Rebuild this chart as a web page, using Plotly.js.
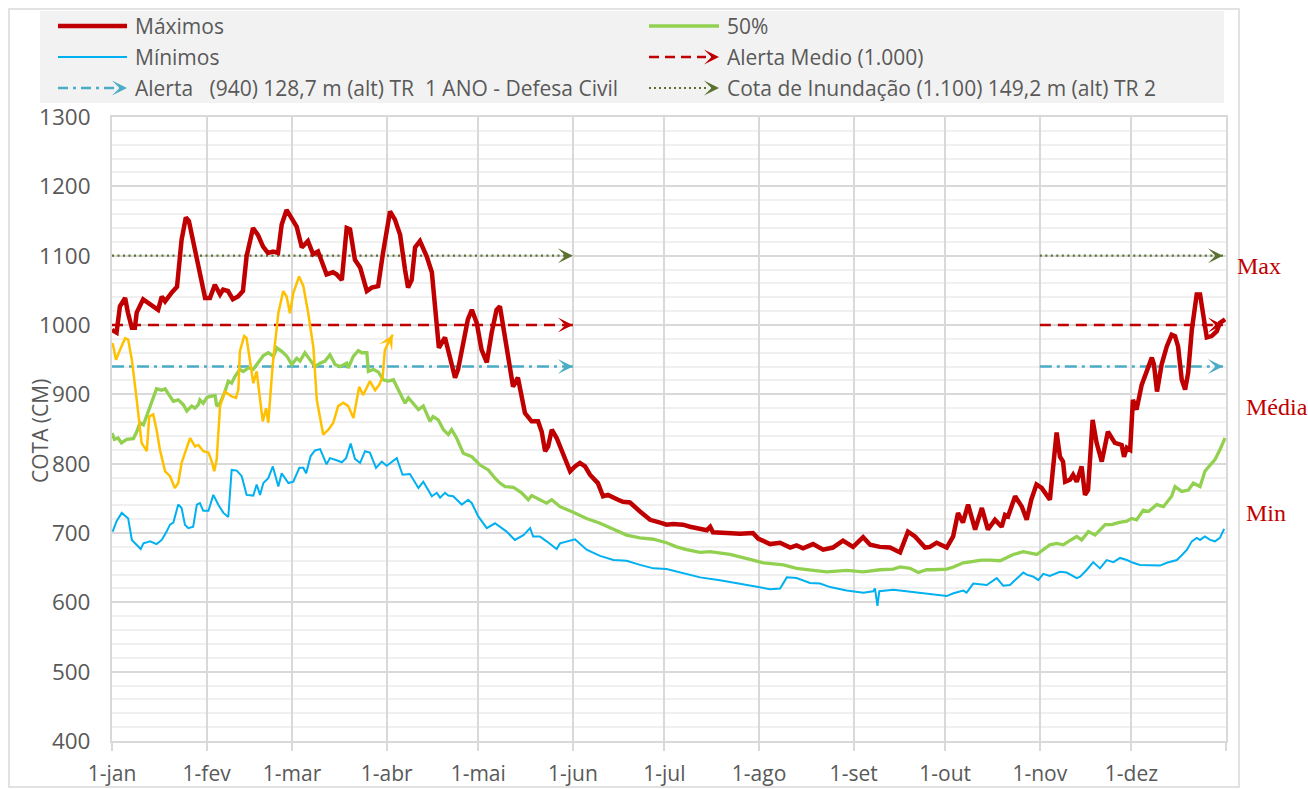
<!DOCTYPE html>
<html>
<head>
<meta charset="utf-8">
<script src="https://cdn.plot.ly/plotly-3.0.1.min.js"></script>
<style>html,body{margin:0;padding:0;background:#fff;}#chart{width:1308px;height:789px;}</style>
</head>
<body>
<div id="chart"></div>
<script>
// ---------------- DATA ----------------
const monthLabels = ['1-jan','1-fev','1-mar','1-abr','1-mai','1-jun','1-jul','1-ago','1-set','1-out','1-nov','1-dez',''];
const monthStartDay = [0,31,59,90,120,151,181,212,243,273,304,334,365];

// Máximos (day of year, cota cm)
const maxDays = [0,1.5,2.6,4.3,5.2,6.5,7.5,8.1,10.2,12.5,15.1,16.3,17.4,19.6,21.3,22.8,24.2,25.2,26.5,28.2,30.5,32.1,33.7,35.4,36.4,38,39.6,41.3,42.9,44.1,46.2,47.8,49.5,51.1,52.8,54.4,55.6,57.2,58.9,60.5,62.2,64.2,65.9,67.5,68.7,70.3,72.4,73.6,75.3,76.9,78,79.6,81.3,83.5,85.1,87.2,88.8,91.1,92.7,94.4,96,97,98.2,99.3,100.9,103.1,104.8,105.8,107.1,109.1,110.7,112.4,113.4,115,116.6,117.9,119.5,121.1,122.8,124.4,126,127.1,128.1,129.8,131.4,133,135.3,137.5,139.6,140.8,141.9,142.9,144.1,145.7,148.4,150.1,151.7,153.3,155,156.6,159.2,160.9,162.5,163.7,165.8,167.4,169.7,173,176.3,179.6,181.7,183.8,187.1,189.4,192.7,194.9,196,196.9,201.4,205.8,210,211.7,215.6,218.9,222.2,224.3,226.4,229.7,233,236.2,239.5,242.8,246.1,248.4,251.6,254.9,258.2,260.8,263.1,266.4,268,270.2,273.5,275.6,277.2,278.8,280.5,282.1,282.8,285,287,289.3,291.5,292.6,293.6,295.9,298.1,299.7,301.2,302.9,304.6,307.3,308.3,309.5,310.6,311.6,312.3,313.9,314.9,316.1,317.7,318.8,319.8,321.3,322.6,324.3,326.3,328.6,330.8,331.6,332.5,333.6,334.5,335.7,337.4,339,340.7,341.4,342.4,343.9,345.6,347.2,348.3,349.3,350.5,351.6,352.6,353.8,355.4,356.5,357.5,358.7,360.3,362,363,364.7];
const maxVals = [993,989,1027,1039,1018,996,996,1018,1037,1029,1022,1041,1034,1047,1055,1123,1155,1150,1123,1080,1039,1039,1058,1044,1051,1049,1037,1041,1049,1099,1140,1130,1113,1104,1106,1104,1145,1166,1155,1142,1112,1121,1102,1106,1092,1073,1076,1073,1065,1140,1138,1094,1083,1049,1054,1056,1104,1164,1152,1130,1080,1054,1065,1112,1121,1099,1076,1022,967,982,955,924,936,975,1008,1022,1003,964,946,989,1022,1027,998,955,911,924,873,861,861,846,818,825,849,837,806,789,796,801,796,784,772,753,755,753,748,745,744,731,719,715,712,713,712,709,705,704,709,701,700,699,700,692,684,686,679,682,678,684,676,679,689,680,694,683,680,679,672,702,695,679,680,686,679,695,729,715,741,719,705,736,705,719,709,726,724,753,738,719,748,770,765,748,796,845,810,803,774,777,784,774,796,755,762,863,830,803,846,830,827,810,823,820,892,878,914,931,953,943,904,943,969,986,984,969,921,907,931,993,1044,1044,1018,982,984,991,1003,1008];

// 50%
const p50Days = [0,0.8,2,3.1,4.8,7,8.1,9.2,10.3,11.9,13.5,14.6,16.3,17.4,19,20.1,21.7,23.4,24.5,26.1,27.2,28.3,28.8,29.9,31,32.1,33.8,34.3,35.4,37,38.1,39.2,40.3,41.9,43,44.7,46.3,47.9,49.6,51.2,52.9,54,55.6,57.3,58.9,60.5,61.6,63.2,64.9,66.5,68.2,69.8,71.4,73.1,74.7,76.9,77.4,79.1,80.7,81.8,83.5,84,85.6,87.3,88.9,90.5,92.2,94.4,96,97.1,98.7,100.4,102,104.2,105.2,106.9,108.6,110.2,111.3,112.9,115.1,117.9,120.6,123.3,125.5,127.1,128.8,131.5,134.2,136.4,137.5,140.2,142.4,144.1,146.8,151.1,155.5,159.9,164.3,168.6,173,177.4,181.7,185,188.3,192.7,195.9,202.5,209,213.4,220,224.3,229.8,234.2,240.7,246.2,251.6,256,258.2,261.5,264.2,266.9,269.1,273.5,275.7,278.9,282.2,285,287.7,291,295.3,298.6,303,307.3,309.5,311.7,313.4,316.1,317.7,319.9,322.1,325.4,327.6,329.7,332.5,334.1,335.7,337.9,339.6,342.3,344.5,347.2,348.3,350.5,352.7,354.3,356.5,358.1,359.8,361.4,363,364.7];
const p50Vals = [844,835,837,830,835,836,846,859,856,875,897,908,906,908,897,890,892,885,876,883,880,885,892,887,895,897,898,883,887,904,919,916,926,936,933,938,936,945,956,960,955,967,962,955,943,952,948,960,950,940,945,948,957,943,940,945,938,955,963,960,960,933,936,932,921,919,921,902,887,895,887,878,883,861,868,863,849,842,849,837,815,810,798,791,779,772,767,766,758,748,754,748,743,748,738,730,721,714,705,697,693,691,686,680,676,672,673,669,662,657,654,649,646,644,646,644,647,648,651,649,643,647,647,648,651,657,659,661,661,660,669,673,669,683,685,683,688,695,690,702,697,712,712,715,717,721,719,733,731,741,738,753,767,760,762,772,767,789,798,806,820,837];

// Mínimos
const minDays = [0.2,1.5,3.2,5.3,6.5,8.1,9.4,10.3,12.5,14.6,16.3,17.9,19,20.1,21.7,22.8,23.9,25,26.6,27.8,28.8,29.9,31.6,33.2,34.8,36.5,38.1,39.2,40.9,42.5,44.1,46.3,47.4,48.5,49.6,51.2,52.7,54.5,55.6,57.8,59.4,61.4,62.7,63.6,65.1,66.5,68.2,70.3,71.4,73.6,75.3,76.7,78.2,79.6,81.3,82.9,84.5,86.5,88.4,90,91.6,93.3,95.2,97.6,100.4,102,104.8,106.4,107.5,109.1,110.2,111.8,114.6,116.7,117.9,120,122.8,125.5,129.3,132,134.8,137,138,140.2,142.4,145.7,146.8,151.7,155.5,159.9,164.3,168.6,173,177.4,181.7,187.2,192.7,199.2,205.8,212.3,215.6,218.9,221.1,224.3,228.7,232,235.3,240.7,246.2,249.4,250,250.8,251.4,256,260.4,264.7,269.1,273.5,275.7,278.9,280,282.2,286.6,289.9,292,294.2,298.6,299.7,301.9,303.5,305.1,307.3,310.6,312.8,316.1,317.2,319.4,321.5,323.7,325.9,328.1,330.3,332.5,334.6,336.8,340.1,343.4,345.6,348.9,350.5,352.2,353.8,355.4,356.5,358.1,359.8,361.4,363,364.4];
const minVals = [702,717,729,721,690,683,677,685,688,684,690,702,712,715,741,736,712,707,709,741,743,732,732,755,741,729,723,791,790,782,755,754,770,755,772,779,796,767,786,772,774,794,794,786,811,819,821,799,808,805,802,808,829,807,801,818,816,794,803,797,803,808,784,785,765,774,753,758,751,758,754,753,741,748,743,724,707,714,702,690,697,707,695,695,688,677,685,691,676,667,661,660,654,649,648,642,636,632,627,622,619,620,636,635,628,627,622,617,614,616,620,595,616,618,616,613,611,609,613,617,614,627,625,635,624,625,643,640,637,632,641,638,644,643,635,637,647,658,649,661,658,664,661,657,654,654,653,657,661,668,676,688,693,690,695,690,688,693,706];

// Ano atual (amarelo)
const atualDays = [0.2,1.3,2.6,4.3,5.3,6.5,8.1,9.7,11.4,12.2,13.5,14.6,15.7,17.4,19,20.6,21.7,22.8,24.5,25.6,27.2,28.3,29.9,31.6,32.7,33.5,34.3,35.4,37,39.2,40.6,41.4,41.9,43.3,44.1,45.2,46.3,47.4,48.5,49.4,50.5,51.2,52.7,54.5,56.1,57.2,58.3,59.4,61.3,62.7,64.3,66,67.1,68.2,69.2,70.9,72.5,74.1,75.8,77.4,79.1,80.2,81,82.3,83.5,84.5,86.2,87.6,88.7,89.4,90.5,92];
const atualVals = [974,950,964,981,979,950,892,830,818,868,871,849,820,789,782,765,772,801,823,837,825,827,818,816,803,789,806,883,904,897,895,907,962,984,981,950,916,933,897,861,880,859,945,1017,1049,1041,1017,1046,1070,1056,1017,967,892,863,842,849,859,883,888,883,866,892,911,899,911,919,906,914,926,964,974,986];

// Níveis de referência
const alertaMedio = 1000;
const alerta940 = 940;
const cotaInundacao = 1100;
const spanInicio = [0, 151];   // 1-jan -> 1-jun
const spanFim = [304, 364];    // 1-nov -> fim do ano

// ---------------- LAYOUT HELPERS ----------------
const L = 112, R = 1226, T = 117, B = 741;
const px = x => (x - L) / (R - L);
const py = y => (B - y) / (B - T);

const FONT = 'Open Sans, Lato, sans-serif';
const GREY_TXT = '#595959';
const C_MAX = '#c00000', C_50 = '#92d050', C_MIN = '#00b0f0', C_ATUAL = '#ffc000';
const C_940 = '#4bacc6', C_COTA = '#5a7131';

function levelTrace(level, color, dash, width) {
  return {
    type: 'scatter', mode: 'lines', hoverinfo: 'skip', showlegend: false,
    x: [spanInicio[0], spanInicio[1], null, spanFim[0], spanFim[1]],
    y: [level, level, null, level, level],
    line: { color: color, dash: dash, width: width }
  };
}

const traces = [
  levelTrace(cotaInundacao, C_COTA, '2px,3.5px', 2.2),
  levelTrace(alerta940, C_940, '12px,5px,3px,5px', 2.5),
  levelTrace(alertaMedio, C_MAX, '11px,7px', 2.5),
  { type: 'scatter', mode: 'lines', x: minDays, y: minVals, name: 'Mínimos', showlegend: false,
    line: { color: C_MIN, width: 2 } },
  { type: 'scatter', mode: 'lines', x: p50Days, y: p50Vals, name: '50%', showlegend: false,
    line: { color: C_50, width: 3.3 } },
  { type: 'scatter', mode: 'lines', x: maxDays, y: maxVals, name: 'Máximos', showlegend: false,
    line: { color: C_MAX, width: 4.5 } },
  { type: 'scatter', mode: 'lines', x: atualDays, y: atualVals, name: 'Atual', showlegend: false,
    line: { color: C_ATUAL, width: 2.5 } }
];

const annotations = [];
const shapes = [];

// arrowheads at ends of level lines
[[cotaInundacao, C_COTA], [alerta940, C_940], [alertaMedio, C_MAX]].forEach(([lv, c]) => {
  [spanInicio[1], spanFim[1]].forEach(xe => {
    annotations.push({ x: xe, y: lv, xref: 'x', yref: 'y', ax: -6, ay: 0, text: '',
      showarrow: true, arrowhead: 3, arrowsize: 1, arrowwidth: 2.5, arrowcolor: c });
  });
});
// arrowhead at the end of the current-year series
const nA = atualDays.length;
annotations.push({ x: atualDays[nA-1], y: atualVals[nA-1], xref: 'x', yref: 'y',
  ax: atualDays[nA-2], ay: atualVals[nA-2], axref: 'x', ayref: 'y', text: '',
  showarrow: true, arrowhead: 3, arrowsize: 1, arrowwidth: 2.5, arrowcolor: C_ATUAL });

// outer frame & legend background
shapes.push({ type: 'rect', xref: 'paper', yref: 'paper', x0: px(9), x1: px(1239), y0: py(787), y1: py(9),
  line: { color: '#d9d9d9', width: 1.5 }, fillcolor: 'rgba(0,0,0,0)' });
shapes.push({ type: 'rect', xref: 'paper', yref: 'paper', x0: px(40), x1: px(1224), y0: py(103), y1: py(11),
  line: { width: 0 }, fillcolor: '#f2f2f2', layer: 'below' });

// legend entries
const legendRows = [26, 57, 88];
const legCol1 = { x0: 58, x1: 127, tx: 133 };
const legCol2 = { x0: 649, x1: 719, tx: 725 };
function legLine(col, row, color, width, dash, arrow) {
  const yy = py(legendRows[row]);
  const xEnd = arrow ? col.x1 - 13 : col.x1;
  shapes.push({ type: 'line', xref: 'paper', yref: 'paper', x0: px(col.x0), x1: px(xEnd), y0: yy, y1: yy,
    line: { color: color, width: width, dash: dash || 'solid' } });
  if (arrow) {
    annotations.push({ x: px(col.x1), y: yy, xref: 'paper', yref: 'paper', ax: -6, ay: 0, text: '',
      showarrow: true, arrowhead: 3, arrowsize: 1, arrowwidth: 2.5, arrowcolor: color });
  }
}
function legText(col, row, txt) {
  annotations.push({ x: px(col.tx), y: py(legendRows[row]), xref: 'paper', yref: 'paper', xanchor: 'left',
    yanchor: 'middle', showarrow: false, text: txt, font: { family: FONT, size: 21, color: GREY_TXT } });
}
legLine(legCol1, 0, C_MAX, 4.5); legText(legCol1, 0, 'Máximos');
legLine(legCol1, 1, C_MIN, 2); legText(legCol1, 1, 'Mínimos');
legLine(legCol1, 2, C_940, 2.5, '10px,5px,3px,5px', true); legText(legCol1, 2, 'Alerta   (940) 128,7 m (alt) TR  1 ANO - Defesa Civil');
legLine(legCol2, 0, C_50, 3.3); legText(legCol2, 0, '50%');
legLine(legCol2, 1, C_MAX, 2.5, '10px,6px', true); legText(legCol2, 1, 'Alerta Medio (1.000)');
legLine(legCol2, 2, C_COTA, 2.2, '2px,3px', true); legText(legCol2, 2, 'Cota de Inundação (1.100) 149,2 m (alt) TR 2');

// y-axis title
annotations.push({ x: px(40), y: py(431), xref: 'paper', yref: 'paper', xanchor: 'center', yanchor: 'middle',
  text: 'COTA (CM)', textangle: -90, showarrow: false, font: { family: FONT, size: 21, color: GREY_TXT } });

// right-side labels
const sideFont = { family: 'Liberation Serif, Times New Roman, serif', size: 24, color: C_MAX };
annotations.push({ x: px(1235), y: py(266), xref: 'paper', yref: 'paper', xanchor: 'left', yanchor: 'middle', text: 'Max', showarrow: false, font: sideFont });
annotations.push({ x: px(1244), y: py(407), xref: 'paper', yref: 'paper', xanchor: 'left', yanchor: 'middle', text: 'Média', showarrow: false, font: sideFont });
annotations.push({ x: px(1244), y: py(513), xref: 'paper', yref: 'paper', xanchor: 'left', yanchor: 'middle', text: 'Min', showarrow: false, font: sideFont });

const layout = {
  width: 1308, height: 789, autosize: false,
  margin: { l: L, r: 1308 - R, t: T, b: 789 - B, pad: 0 },
  paper_bgcolor: '#ffffff', plot_bgcolor: '#ffffff',
  showlegend: false,
  font: { family: FONT, color: GREY_TXT },
  xaxis: {
    range: [0, 365], tickmode: 'array', tickvals: monthStartDay, ticktext: monthLabels,
    showgrid: true, gridcolor: '#d9d9d9', gridwidth: 2, zeroline: false,
    showline: true, linecolor: '#d9d9d9', linewidth: 2, mirror: true,
    ticks: 'outside', ticklen: 8, tickwidth: 2, tickcolor: '#d9d9d9',
    ticklabelstandoff: 5,
    tickfont: { family: FONT, size: 21, color: GREY_TXT }
  },
  yaxis: {
    range: [400, 1300], dtick: 100, tick0: 400,
    showgrid: true, gridcolor: '#d9d9d9', gridwidth: 2, zeroline: false,
    showline: true, linecolor: '#d9d9d9', linewidth: 2, mirror: true,
    ticks: '', ticklabelstandoff: 15,
    minor: { dtick: 20, showgrid: true, gridcolor: '#f0f0f0', gridwidth: 2 },
    tickfont: { family: FONT, size: 22.5, color: GREY_TXT }
  },
  shapes: shapes,
  annotations: annotations
};

Plotly.newPlot('chart', traces, layout, { displayModeBar: false, staticPlot: true });
</script>
</body>
</html>
